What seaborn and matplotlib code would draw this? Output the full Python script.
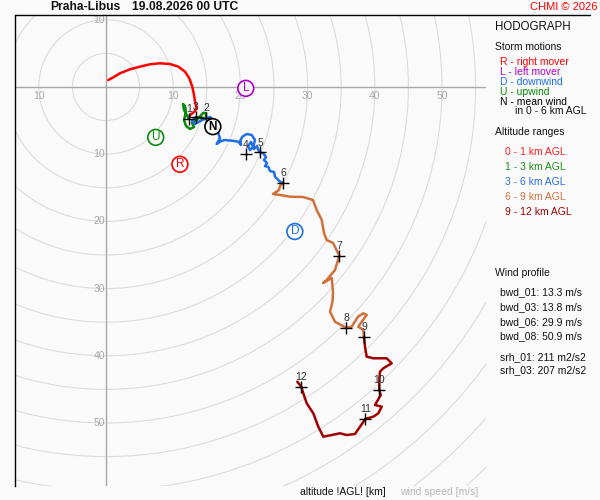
import numpy as np
import pandas as pd
import matplotlib
matplotlib.use("Agg")
import matplotlib.pyplot as plt
import seaborn as sns
from matplotlib.patches import Circle
from matplotlib.lines import Line2D

# ---------------- data (wind components u, v in m/s) ----------------
layers = ["0-1", "1-3", "3-6", "6-9", "9-12"]
layer_colors = ["#ff0000", "#0a8a0a", "#1f6fe6", "#d2703a", "#a00000"]

u_0_1 = [0.34, 1.09, 2.08, 3.57, 5.06, 6.55, 8.04, 9.52, 10.76, 11.76, 12.40, 12.84, 13.10, 13.24, 13.50, 13.10, 12.50, 12.35]
v_0_1 = [1.04, 1.44, 2.04, 2.63, 3.03, 3.38, 3.53, 3.42, 3.03, 2.28, 1.29, 0.04, -1.19, -2.19, -3.17, -3.72, -4.17, -4.76]

u_1_3 = [12.35, 11.61, 11.46, 11.76, 11.90, 11.61, 11.90, 12.50, 13.10, 12.80, 13.54, 14.43, 14.88, 14.88, 13.99, 13.39]
v_1_3 = [-4.76, -3.42, -2.53, -2.83, -3.72, -4.91, -5.80, -6.25, -5.95, -5.36, -4.91, -3.87, -3.87, -4.61, -4.61, -4.46]

u_3_6 = [13.39, 12.80, 13.24, 14.29, 15.48, 16.22, 16.71, 16.96, 16.47, 17.11, 17.71, 18.71, 19.69, 20.09, 20.01, 20.28,
         20.94, 21.68, 22.17, 21.92, 21.43, 21.13, 21.58, 22.02, 22.47, 22.66, 22.92, 23.41, 23.81, 23.51, 23.96, 23.66,
         24.15, 24.40, 25.00, 25.15, 25.89, 26.38]
v_3_6 = [-4.46, -5.06, -5.51, -4.91, -4.46, -5.21, -6.89, -7.63, -8.48, -8.04, -7.89, -7.99, -8.14, -8.63, -7.89, -7.40,
         -6.99, -7.14, -7.89, -8.88, -9.38, -8.78, -8.18, -9.23, -8.78, -9.38, -9.72, -9.87, -10.42, -10.86, -11.31, -11.76,
         -11.90, -12.50, -12.65, -13.35, -14.09, -14.24]

u_6_9 = [26.38, 25.89, 25.74, 24.85, 25.89, 27.38, 29.32, 30.80, 31.35, 32.10, 32.44, 32.84, 33.78, 34.72, 34.08, 32.84,
         32.29, 33.59, 33.78, 33.73, 33.59, 33.33, 34.08, 35.71, 36.56, 37.50, 38.29, 38.79, 38.05, 37.54, 38.29, 38.39]
v_6_9 = [-14.24, -14.73, -15.33, -15.92, -16.07, -16.32, -16.37, -16.82, -18.30, -19.79, -21.73, -22.77, -23.21, -25.10,
         -27.23, -28.72, -29.17, -28.42, -30.46, -31.70, -32.44, -33.44, -34.93, -35.82, -35.67, -34.18, -33.68, -33.93,
         -34.93, -35.67, -36.16, -37.16]

u_9_12 = [38.39, 38.54, 38.79, 39.78, 41.77, 42.51, 41.26, 40.77, 40.67, 40.67, 40.88, 40.03, 41.03, 40.52, 39.78, 38.59,
          37.80, 37.05, 35.82, 34.82, 33.59, 32.34, 31.59, 30.85, 29.87, 29.36, 29.06, 28.47]
v_9_12 = [-37.16, -38.65, -40.13, -40.37, -40.37, -41.12, -41.86, -42.37, -43.60, -45.09, -45.83, -47.32, -47.57, -48.56,
          -49.06, -49.40, -50.55, -51.64, -51.79, -51.53, -51.79, -52.04, -50.55, -48.56, -47.07, -45.58, -44.60, -43.85]

heights = [1, 2, 3, 4, 5, 6, 7, 8, 9, 10, 11, 12]
height_u = [12.35, 14.88, 13.39, 20.79, 22.92, 26.38, 34.72, 35.71, 38.39, 40.67, 38.59, 29.06]
height_v = [-4.76, -4.61, -4.46, -10.01, -9.72, -14.24, -25.10, -35.82, -37.16, -45.09, -49.40, -44.60]

storm_labels = ["R", "L", "D", "U", "N"]
storm_u = [11.0, 20.8, 28.1, 7.4, 15.9]
storm_v = [-11.5, -0.2, -21.5, -7.5, -5.9]
storm_colors = ["#ff0000", "#b000c8", "#1f6fe6", "#0a8a0a", "#000000"]

ring_labels = [10, 20, 30, 40, 50]

legend_motion_text = ["R - right mover", "L - left mover", "D - downwind", "U - upwind", "N - mean wind"]
legend_range_text = ["0 - 1 km AGL", "1 - 3 km AGL", "3 - 6 km AGL", "6 - 9 km AGL", "9 - 12 km AGL"]
profile_text = ["bwd_01: 13.3 m/s", "bwd_03: 13.8 m/s", "bwd_06: 29.9 m/s", "bwd_08: 50.9 m/s"]
srh_text = ["srh_01: 211 m2/s2", "srh_03: 207 m2/s2"]

# ---------------- frame ----------------
BG = "#fafafa"
sns.set_style("white", rc={"axes.facecolor": BG, "figure.facecolor": BG})
plt.rcParams["font.family"] = ["Liberation Sans", "DejaVu Sans"]

W, H = 600, 500
fig = plt.figure(figsize=(6, 5), dpi=100, facecolor=BG)
ax = fig.add_axes([15 / W, 14 / H, 471 / W, 471 / H])
ax.set_facecolor(BG)
scale = 6.72
ax.set_xlim((15 - 106) / scale, (486 - 106) / scale)
ax.set_ylim((87 - 486) / scale, (87 - 15) / scale)

for r in range(5, 95, 5):
    ax.add_patch(Circle((0, 0), r, fill=False, ec="#dcdcdc", lw=0.8, zorder=1))
ax.axhline(0, color="#a8a8a8", lw=1.0, zorder=2)
ax.axvline(0, color="#a8a8a8", lw=1.0, zorder=2)

lab_kw = dict(fontsize=7.5, color="#a8a8a8", textcoords="offset points", zorder=2)
for r in [-10] + ring_labels:
    ax.annotate(str(abs(r)), (r, 0), xytext=(0, -6.5), ha="center", va="center", **lab_kw)
for r in [10] + [-x for x in ring_labels]:
    ax.annotate(str(abs(r)), (0, r), xytext=(-0.8, 0), ha="right", va="center", **lab_kw)

# ---------------- hodograph traces ----------------
segs = [(u_0_1, v_0_1), (u_1_3, v_1_3), (u_3_6, v_3_6), (u_6_9, v_6_9), (u_9_12, v_9_12)]
rows = []
for name, (us, vs) in zip(layers, segs):
    for i, (a, b) in enumerate(zip(us, vs)):
        rows.append({"u": a, "v": b, "layer": name, "idx": i})
df = pd.DataFrame(rows)
sns.lineplot(data=df, x="u", y="v", hue="layer", hue_order=layers, palette=layer_colors,
             sort=False, estimator=None, units="layer", lw=1.8, legend=False, ax=ax, zorder=3)

hdf = pd.DataFrame({"u": height_u, "v": height_v, "h": heights})
sns.scatterplot(data=hdf, x="u", y="v", marker="+", s=75, color="black", linewidth=1.0,
                legend=False, ax=ax, zorder=5)
for h, a, b in zip(heights, height_u, height_v):
    ax.annotate(str(h), (a, b), xytext=(0, 7), textcoords="offset points", ha="center",
                va="center", fontsize=7.5, color="#333333", zorder=6)

sdf = pd.DataFrame({"u": storm_u, "v": storm_v, "lab": storm_labels})
sns.scatterplot(data=sdf, x="u", y="v", hue="lab", hue_order=storm_labels, palette=storm_colors,
                s=130, marker="o", facecolor=BG, linewidth=1.2, legend=False, ax=ax, zorder=6)
for coll in ax.collections[-1:]:
    coll.set_facecolor(BG)
    coll.set_edgecolor(storm_colors)
for lab, a, b, c in zip(storm_labels, storm_u, storm_v, storm_colors):
    ax.text(a, b, lab, ha="center", va="center", fontsize=8.5, color=c,
            fontweight="bold" if lab == "N" else "normal", zorder=7)

ax.set_xlabel("")
ax.set_ylabel("")
ax.set_xticks([])
ax.set_yticks([])
for side in ["right", "bottom", "top"]:
    ax.spines[side].set_visible(False)
ax.spines["left"].set_color("black")
ax.spines["left"].set_linewidth(1.0)
fig.add_artist(Line2D([15 / W, 590 / W], [1 - 15 / H, 1 - 15 / H], color="black", lw=1.0))

# ---------------- text panel ----------------
def ftxt(x, y, s, **kw):
    kw.setdefault("va", "center")
    kw.setdefault("ha", "left")
    fig.text(x / W, 1 - y / H, s, **kw)

ftxt(50, 7, "Praha-Libus", fontsize=8.7, fontweight="bold", color="#111111")
ftxt(132, 7, "19.08.2026 00 UTC", fontsize=8.7, fontweight="bold", color="#111111")
ftxt(597, 7, "CHMI © 2026", fontsize=8, color="#ff0000", ha="right")

FS = 7.5
ftxt(495, 27, "HODOGRAPH", fontsize=8.3, color="#111111")
ftxt(495, 47, "Storm motions", fontsize=FS, color="#111111")
for i, (s, c) in enumerate(zip(legend_motion_text, storm_colors)):
    ftxt(500, 62 + 10 * i, s, fontsize=FS, color=c)
ftxt(515, 111.5, "in 0 - 6 km AGL", fontsize=FS, color="#111111")

ftxt(495, 132, "Altitude ranges", fontsize=FS, color="#111111")
range_colors = ["#ff2020", "#1a901a", "#2a6ee8", "#d87040", "#a00000"]
for i, (s, c) in enumerate(zip(legend_range_text, range_colors)):
    ftxt(505, 152 + 15 * i, s, fontsize=FS, color=c)

ftxt(495, 273, "Wind profile", fontsize=FS, color="#111111")
for i, s in enumerate(profile_text):
    ftxt(500, 292.5 + 14.6 * i, s, fontsize=FS, color="#111111")
for i, s in enumerate(srh_text):
    ftxt(500, 357 + 13.5 * i, s, fontsize=FS, color="#111111")

ftxt(300, 492, "altitude !AGL! [km]", fontsize=FS, color="#111111")
ftxt(400, 492, "wind speed [m/s]", fontsize=FS, color="#b8b8b8")

fig.savefig("out.png", dpi=100, facecolor=BG)
